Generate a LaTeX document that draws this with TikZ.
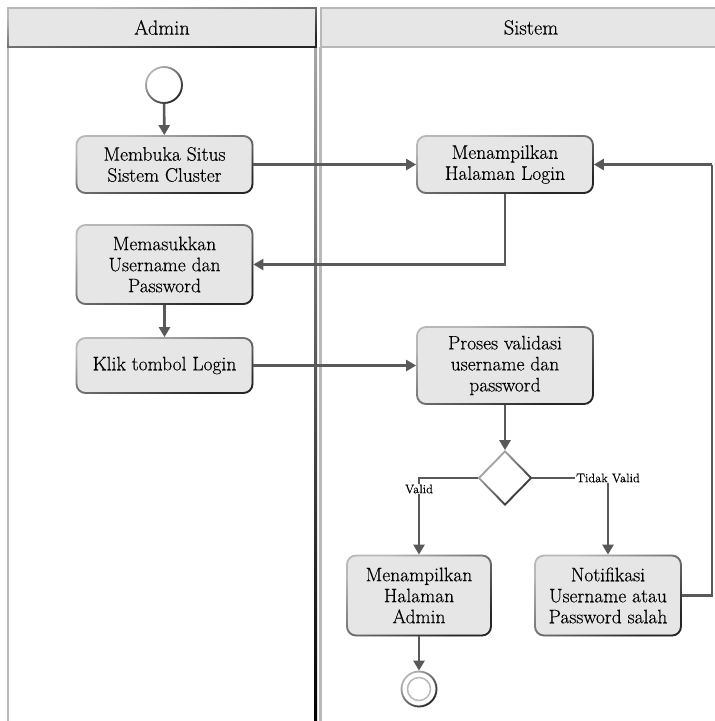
\documentclass[tikz,border=0pt]{standalone}
\usepackage{fontspec}
\usetikzlibrary{arrows.meta,shapes.geometric,fadings}
\newfontfamily\diagfont{Latin Modern Roman}[FakeBold=0.35]
\definecolor{flow}{HTML}{595959}
\definecolor{boxfill}{HTML}{E6E6E6}
\definecolor{rimlight}{HTML}{B8B8B8}
\definecolor{rimdark}{HTML}{262626}
\tikzset{
  rim/.style={draw=rimlight, line width=1.8pt,
    postaction={draw=rimdark, line width=1.8pt, path fading=north, fading angle=45}},
  act/.style={rim, rounded corners=9pt, fill=boxfill, minimum width=176pt,
    align=center, inner sep=2pt, font=\diagfont\fontsize{19.5}{21}\selectfont},
  header/.style={fill=boxfill, minimum height=39pt, inner sep=0pt,
    font=\diagfont\fontsize{20.5}{22}\selectfont},
  flowarr/.style={draw=flow, line width=2.6pt, -{Triangle[length=10pt,width=11pt]}},
  flowline/.style={draw=flow, line width=2.6pt},
  lbl/.style={fill=white, inner sep=1pt, font=\diagfont\fontsize{12.5}{13}\selectfont},
}
\begin{document}
\begin{tikzpicture}[x=1pt,y=-1pt]
\useasboundingbox (0,0) rectangle (715,721);
\clip (0,0) rectangle (715,721);

% swimlane borders
\fill[rimlight] (7,47) rectangle (9,721);
\shade[top color=gray!70, bottom color=black] (314,47) rectangle (317,721);
\fill[gray!55] (319,47) rectangle (322,721);

% lane headers
\node[header, rim, minimum width=308pt] (hadm) at (162,27.5) {Admin};
\node[header, draw=rimlight, line width=1.8pt, minimum width=420pt] (hsys) at (531,27.5) {};
\node[font=\diagfont\fontsize{20.5}{22}\selectfont] (hsyst) at (531,27.5) {Sistem};

% actions
\node[circle, rim, fill=white, minimum size=36pt, inner sep=0pt] (st) at (164,85) {};
\node[act, minimum height=57pt] (buka) at (164.5,164.5) {Membuka Situs\\Sistem Cluster};
\node[act, minimum height=57pt] (login) at (505,164.5) {Menampilkan\\Halaman Login};
\node[act, minimum height=79pt] (inp) at (164.5,264.5) {Memasukkan\\Username dan\\Password};
\node[act, minimum height=55pt] (klik) at (164.5,365.5) {Klik tombol Login};
\node[act, minimum height=77pt] (proc) at (505,365.5) {Proses validasi\\username dan\\password};
\node[diamond, rim, fill=white, minimum width=53pt, minimum height=54pt, inner sep=0pt] (dec) at (505,478) {};
\node[act, minimum width=144pt, minimum height=80pt] (adm) at (419,595.5) {Menampilkan\\Halaman\\Admin};
\node[act, minimum width=146pt, minimum height=80pt] (notif) at (608,595.5) {Notifikasi\\Username atau\\Password salah};
\node[circle, rim, fill=white, minimum size=35pt, inner sep=0pt] (en) at (419,689) {};
\node[circle, draw=gray!55, line width=1.5pt, minimum size=23pt, inner sep=0pt] (enin) at (en) {};

% flows
\coordinate (rt) at (712,164.5);
\draw[flowarr] (st) -- (buka);
\draw[flowarr] (buka.east) -- (login.west);
\draw[flowarr] (login.south) |- (inp.east);
\draw[flowarr] (inp) -- (klik);
\draw[flowarr] (klik.east) -- (proc.west);
\draw[flowarr] (proc) -- (dec);
\draw[flowarr] (dec.west) -| (adm.north);
\draw[flowarr] (dec.east) -| (notif.north);
\draw[flowline] (notif.east) -| (rt);
\draw[flowarr] (rt) -- (login.east);
\draw[flowarr] (adm) -- (en);

% guard labels
\node[lbl] (lv) at (419,489) {Valid};
\node[lbl] (ltv) at (608,478) {Tidak Valid};
\end{tikzpicture}
\end{document}
